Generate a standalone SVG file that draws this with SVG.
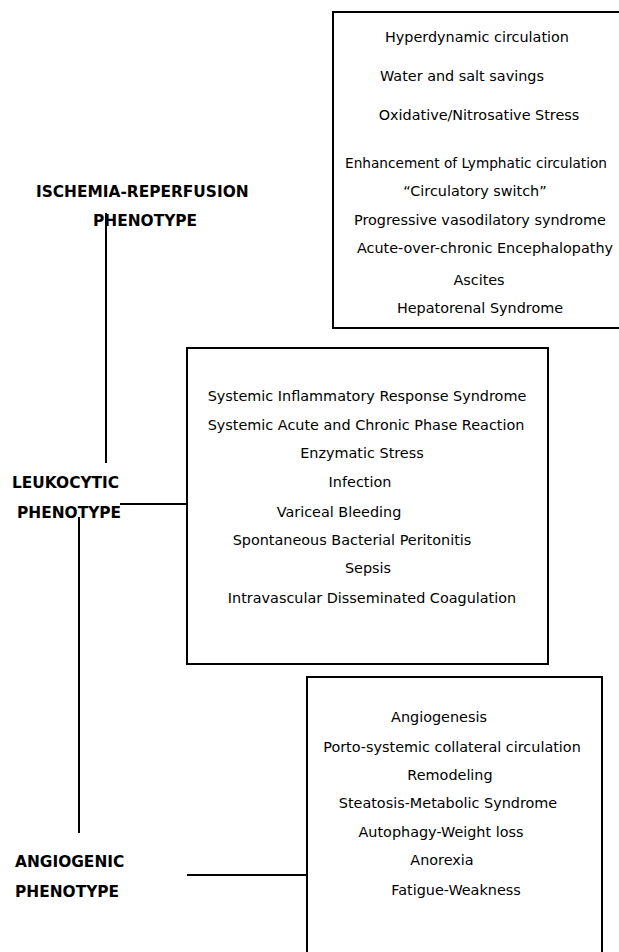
<svg xmlns="http://www.w3.org/2000/svg" width="619" height="952" viewBox="0 0 619 952">
<style>
.box{fill:#fff;stroke:#000;stroke-width:2}
.t{font-family:"DejaVu Sans",Verdana,sans-serif;font-size:14.4px;fill:#000;text-anchor:middle}
.lbl{font-family:"DejaVu Sans",Verdana,sans-serif;font-size:15.4px;font-weight:bold;fill:#000}
.ln{stroke:#000;stroke-width:2;fill:none}
</style>
<rect width="619" height="952" fill="#fff"/>
<g id="connectors">
<line class="ln" x1="106" y1="213" x2="106" y2="463"/>
<line class="ln" x1="120" y1="504" x2="187" y2="504"/>
<line class="ln" x1="79" y1="517" x2="79" y2="833"/>
<line class="ln" x1="187" y1="875" x2="307" y2="875"/>
</g>
<g id="ischemia-box">
<rect class="box" x="333" y="12" width="300" height="316"/>
<text class="t" x="477" y="42">Hyperdynamic circulation</text>
<text class="t" x="462" y="81">Water and salt savings</text>
<text class="t" x="479" y="120">Oxidative/Nitrosative Stress</text>
<text class="t" x="345" y="168" style="text-anchor:start;font-size:14px" textLength="262" lengthAdjust="spacingAndGlyphs">Enhancement of Lymphatic circulation</text>
<text class="t" x="475" y="196">“Circulatory switch”</text>
<text class="t" x="480" y="225">Progressive vasodilatory syndrome</text>
<text class="t" x="485" y="253">Acute-over-chronic Encephalopathy</text>
<text class="t" x="479" y="285">Ascites</text>
<text class="t" x="480" y="313">Hepatorenal Syndrome</text>
</g>
<g id="ischemia-label">
<text class="lbl" x="36" y="197">ISCHEMIA-REPERFUSION</text>
<text class="lbl" x="93" y="226">PHENOTYPE</text>
</g>
<g id="leukocytic-box">
<rect class="box" x="187" y="348" width="361" height="316"/>
<text class="t" x="367" y="401">Systemic Inflammatory Response Syndrome</text>
<text class="t" x="366" y="430">Systemic Acute and Chronic Phase Reaction</text>
<text class="t" x="362" y="458">Enzymatic Stress</text>
<text class="t" x="360" y="487">Infection</text>
<text class="t" x="339" y="517">Variceal Bleeding</text>
<text class="t" x="352" y="545">Spontaneous Bacterial Peritonitis</text>
<text class="t" x="368" y="573">Sepsis</text>
<text class="t" x="372" y="603">Intravascular Disseminated Coagulation</text>
</g>
<g id="leukocytic-label">
<text class="lbl" x="12" y="488">LEUKOCYTIC</text>
<text class="lbl" x="17" y="518">PHENOTYPE</text>
</g>
<g id="angiogenic-box">
<rect class="box" x="307" y="677" width="295" height="290"/>
<text class="t" x="439" y="722">Angiogenesis</text>
<text class="t" x="452" y="752">Porto-systemic collateral circulation</text>
<text class="t" x="450" y="780">Remodeling</text>
<text class="t" x="448" y="808">Steatosis-Metabolic Syndrome</text>
<text class="t" x="441" y="837">Autophagy-Weight loss</text>
<text class="t" x="442" y="865">Anorexia</text>
<text class="t" x="456" y="895">Fatigue-Weakness</text>
</g>
<g id="angiogenic-label">
<text class="lbl" x="15" y="867">ANGIOGENIC</text>
<text class="lbl" x="15" y="897">PHENOTYPE</text>
</g>
</svg>
